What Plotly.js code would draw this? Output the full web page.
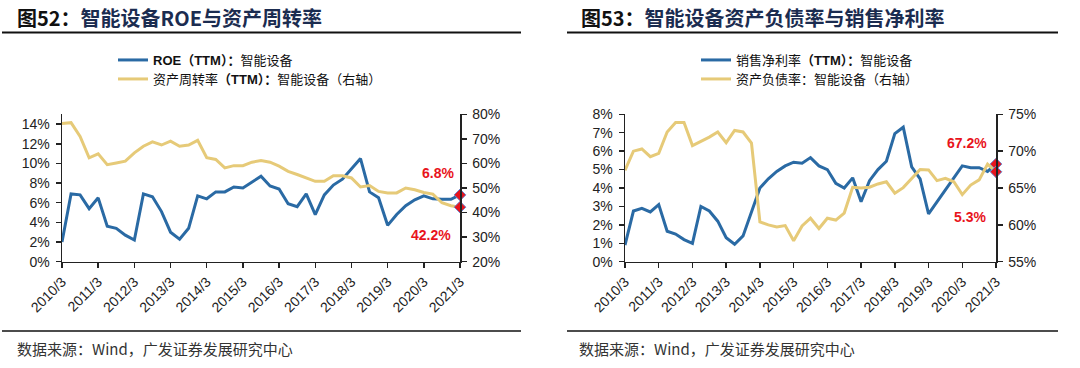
<!DOCTYPE html>
<html>
<head>
<meta charset="utf-8">
<script src="https://cdn.plot.ly/plotly-3.0.1.min.js"></script>
<style>
html,body{margin:0;padding:0;background:#fff;}
#chart{width:1080px;height:368px;}
</style>
</head>
<body>
<div id="chart"></div>
<script>
// Quarter categories (same for both panels)
const quarters = ['2010/3','2010/6','2010/9','2010/12','2011/3','2011/6','2011/9','2011/12',
  '2012/3','2012/6','2012/9','2012/12','2013/3','2013/6','2013/9','2013/12',
  '2014/3','2014/6','2014/9','2014/12','2015/3','2015/6','2015/9','2015/12',
  '2016/3','2016/6','2016/9','2016/12','2017/3','2017/6','2017/9','2017/12',
  '2018/3','2018/6','2018/9','2018/12','2019/3','2019/6','2019/9','2019/12',
  '2020/3','2020/6','2020/9','2020/12','2021/3'];
const yearTicks = ['2010/3','2011/3','2012/3','2013/3','2014/3','2015/3','2016/3','2017/3','2018/3','2019/3','2020/3','2021/3'];

// Axis tick values
const roeTicks = [0,2,4,6,8,10,12,14];
const turnoverTicks = [20,30,40,50,60,70,80];
const marginTicks = [0,1,2,3,4,5,6,7,8];
const debtTicks = [55,60,65,70,75];

// Left panel: ROE (TTM, %) and asset turnover (TTM, %, right axis)
const roe = [2.0,6.9,6.8,5.4,6.5,3.6,3.4,2.7,2.2,6.9,6.6,5.1,3.0,2.3,3.4,6.7,6.4,7.1,7.1,7.6,7.5,8.1,8.7,7.7,7.4,5.9,5.6,6.9,4.8,6.8,7.8,8.4,9.5,10.5,7.1,6.5,3.7,4.8,5.7,6.3,6.7,6.4,6.35,6.35,6.8];
const turnover = [76.3,76.6,71.0,62.3,63.9,59.5,60.2,60.9,64.3,67.0,68.8,67.5,69.1,67.0,67.5,69.4,62.3,61.6,58.2,59.1,59.1,60.5,61.2,60.5,58.9,56.8,55.5,54.1,52.7,52.7,55.0,55.0,54.1,50.4,51.0,48.6,48.0,48.0,50.0,49.3,48.2,47.5,44.0,42.8,42.2];

// Right panel: net margin (TTM, %) and debt ratio (%, right axis)
const netMargin = [0.9,2.75,2.9,2.7,3.1,1.65,1.5,1.2,1.0,3.0,2.75,2.2,1.3,0.95,1.4,2.7,4.0,4.5,4.9,5.2,5.4,5.35,5.65,5.2,5.0,4.25,4.0,4.55,3.25,4.4,5.0,5.45,6.95,7.3,5.15,4.5,2.6,3.25,3.9,4.5,5.2,5.1,5.1,4.9,5.3];
const debtRatio = [67.4,70.0,70.3,69.25,69.7,72.6,73.9,73.9,70.75,71.3,71.9,72.6,71.15,72.8,72.6,71.1,60.4,60.0,59.7,59.9,57.85,59.85,60.9,59.5,60.9,60.65,61.6,65.1,65.0,65.1,65.55,65.85,64.3,65.05,66.3,67.5,67.45,66.0,66.3,65.85,64.1,65.4,66.1,68.25,67.2];

const names = {
  roe: '<b>ROE（TTM）：</b>智能设备',
  turnover: '资产周转率<b>（TTM）：</b>智能设备（右轴）',
  margin: '销售净利率<b>（TTM）：</b>智能设备',
  debt: '资产负债率：智能设备（右轴）'
};

const BLUE = '#2a6aa4';
const GOLD = '#e6ca78';
const RED = '#e8141c';
const last = a => a[a.length-1];
const lastQ = last(quarters);
const pct = arr => arr.map(v => v + '%');

const markerStyle = {symbol:'diamond', size:9, color:RED, line:{color:'#6f86cc', width:1}};

const traces = [
  {x:quarters, y:roe, type:'scatter', mode:'lines', name:names.roe, line:{color:BLUE, width:3}, xaxis:'x', yaxis:'y', legend:'legend'},
  {x:quarters, y:turnover, type:'scatter', mode:'lines', name:names.turnover, line:{color:GOLD, width:3}, xaxis:'x', yaxis:'y2', legend:'legend2'},
  {x:[lastQ], y:[last(roe)], type:'scatter', mode:'markers', marker:markerStyle, xaxis:'x', yaxis:'y', showlegend:false, cliponaxis:false},
  {x:[lastQ], y:[last(turnover)], type:'scatter', mode:'markers', marker:markerStyle, xaxis:'x', yaxis:'y2', showlegend:false, cliponaxis:false},
  {x:quarters, y:netMargin, type:'scatter', mode:'lines', name:names.margin, line:{color:BLUE, width:3}, xaxis:'x2', yaxis:'y3', legend:'legend3'},
  {x:quarters, y:debtRatio, type:'scatter', mode:'lines', name:names.debt, line:{color:GOLD, width:3}, xaxis:'x2', yaxis:'y4', legend:'legend4'},
  {x:[lastQ], y:[last(netMargin)], type:'scatter', mode:'markers', marker:markerStyle, xaxis:'x2', yaxis:'y3', showlegend:false, cliponaxis:false},
  {x:[lastQ], y:[last(debtRatio)], type:'scatter', mode:'markers', marker:markerStyle, xaxis:'x2', yaxis:'y4', showlegend:false, cliponaxis:false}
];

const W = 1080, H = 368;
const px = v => v / W;
const py = v => 1 - v / H;
const yDom = [py(261.7), py(114.3)];
const tickFont = {family:'Liberation Sans, Arial, sans-serif', size:14, color:'#222'};

const xBase = {
  type:'category', range:[0, quarters.length-1], tickmode:'array', tickvals:yearTicks, ticktext:yearTicks,
  tickangle:-45, ticks:'outside', ticklen:5, tickcolor:'#222', tickwidth:1.5,
  showline:true, linecolor:'#222', linewidth:1.5, showgrid:false, zeroline:false,
  tickfont:tickFont, fixedrange:true
};
const yBase = {
  tickmode:'array', ticks:'outside', ticklen:5, tickcolor:'#222', tickwidth:1.5, showline:true, linecolor:'#222', linewidth:1.5,
  showgrid:false, zeroline:false, tickfont:tickFont, ticklabelstandoff:3, fixedrange:true
};

const lblFont = {family:'Liberation Sans, Arial, sans-serif', size:14, color:RED, weight:'bold'};
const titleFont = {family:'Noto Sans CJK SC, sans-serif', size:20, color:'#1b2c50', weight:'bold'};
const footFont = {family:'Noto Sans CJK SC, Liberation Sans, sans-serif', size:15, color:'#333'};
const legFont = {family:'Liberation Sans, Noto Sans CJK SC, sans-serif', size:13, color:'#111'};
const legBase = {xanchor:'left', yanchor:'middle', bgcolor:'rgba(0,0,0,0)', font:legFont, itemclick:false, borderwidth:0};

const layout = {
  width:W, height:H, margin:{l:0,r:0,t:0,b:0}, paper_bgcolor:'#fff', plot_bgcolor:'rgba(0,0,0,0)',
  font:{family:'Liberation Sans, Noto Sans CJK SC, sans-serif', color:'#222'},
  showlegend:true,
  xaxis: Object.assign({}, xBase, {domain:[px(62), px(460)], anchor:'y'}),
  yaxis: Object.assign({}, yBase, {domain:yDom, range:[0,15], tickvals:roeTicks, ticktext:pct(roeTicks), anchor:'x'}),
  yaxis2: Object.assign({}, yBase, {overlaying:'y', side:'right', anchor:'x', range:[20,80], tickvals:turnoverTicks, ticktext:pct(turnoverTicks)}),
  xaxis2: Object.assign({}, xBase, {domain:[px(625), px(996)], anchor:'y3'}),
  yaxis3: Object.assign({}, yBase, {domain:yDom, range:[0,8], tickvals:marginTicks, ticktext:pct(marginTicks), anchor:'x2'}),
  yaxis4: Object.assign({}, yBase, {overlaying:'y3', side:'right', anchor:'x2', range:[55,75], tickvals:debtTicks, ticktext:pct(debtTicks)}),
  legend: Object.assign({}, legBase, {x:px(113), y:py(60)}),
  legend2: Object.assign({}, legBase, {x:px(113), y:py(79)}),
  legend3: Object.assign({}, legBase, {x:px(696), y:py(60)}),
  legend4: Object.assign({}, legBase, {x:px(696), y:py(79)}),
  shapes:[
    {type:'line', xref:'paper', yref:'paper', x0:px(2), x1:px(521), y0:py(32.5), y1:py(32.5), line:{color:'#111', width:2}},
    {type:'line', xref:'paper', yref:'paper', x0:px(567), x1:px(1058), y0:py(32.5), y1:py(32.5), line:{color:'#111', width:2}},
    {type:'line', xref:'paper', yref:'paper', x0:px(2), x1:px(521), y0:py(331), y1:py(331), line:{color:'#111', width:1.5}},
    {type:'line', xref:'paper', yref:'paper', x0:px(567), x1:px(1058), y0:py(331), y1:py(331), line:{color:'#111', width:1.5}}
  ],
  annotations:[
    {xref:'paper', yref:'paper', x:px(15), y:py(17), xanchor:'left', yanchor:'middle', showarrow:false,
     text:'<span style="color:#111">图52：</span>智能设备ROE与资产周转率', font:titleFont},
    {xref:'paper', yref:'paper', x:px(579), y:py(17), xanchor:'left', yanchor:'middle', showarrow:false,
     text:'<span style="color:#111">图53：</span>智能设备资产负债率与销售净利率', font:titleFont},
    {xref:'paper', yref:'paper', x:px(15), y:py(348), xanchor:'left', yanchor:'middle', showarrow:false,
     text:'数据来源：Wind，广发证券发展研究中心', font:footFont},
    {xref:'paper', yref:'paper', x:px(577), y:py(348), xanchor:'left', yanchor:'middle', showarrow:false,
     text:'数据来源：Wind，广发证券发展研究中心', font:footFont},
    {xref:'x', yref:'y', x:lastQ, y:9.0, xanchor:'right', yanchor:'middle', xshift:-4, showarrow:false,
     text:last(roe).toFixed(1)+'%', font:lblFont},
    {xref:'x', yref:'y', x:lastQ, y:2.7, xanchor:'right', yanchor:'middle', xshift:-7, showarrow:false,
     text:last(turnover).toFixed(1)+'%', font:lblFont},
    {xref:'x2', yref:'y3', x:lastQ, y:6.45, xanchor:'right', yanchor:'middle', xshift:-7, showarrow:false,
     text:last(debtRatio).toFixed(1)+'%', font:lblFont},
    {xref:'x2', yref:'y3', x:lastQ, y:2.43, xanchor:'right', yanchor:'middle', xshift:-8, showarrow:false,
     text:last(netMargin).toFixed(1)+'%', font:lblFont}
  ]
};

Plotly.newPlot('chart', traces, layout, {displayModeBar:false, staticPlot:true});
</script>
</body>
</html>
